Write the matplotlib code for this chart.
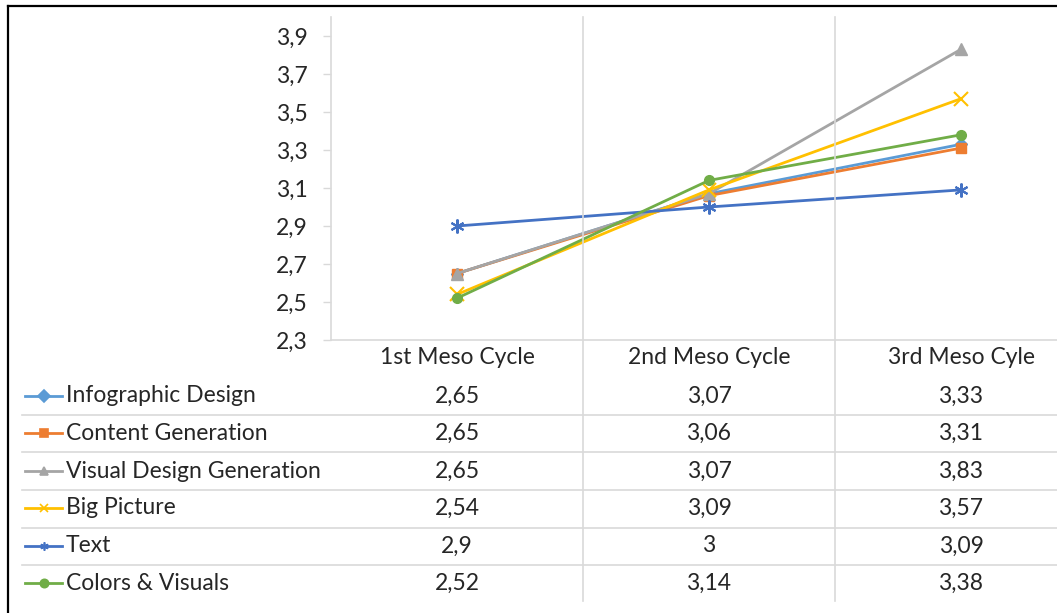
import matplotlib.pyplot as plt
from matplotlib.lines import Line2D
from matplotlib.transforms import blended_transform_factory

plt.rcParams['font.family'] = ['Lato', 'DejaVu Sans']

cycles = ['1st Meso Cycle', '2nd Meso Cycle', '3rd Meso Cyle']
series_names = ['Infographic Design', 'Content Generation', 'Visual Design Generation',
                'Big Picture', 'Text', 'Colors & Visuals']
infographic = [2.65, 3.07, 3.33]
content = [2.65, 3.06, 3.31]
visual_design = [2.65, 3.07, 3.83]
big_picture = [2.54, 3.09, 3.57]
text_scores = [2.9, 3.0, 3.09]
colors_visuals = [2.52, 3.14, 3.38]
yticks = [2.3, 2.5, 2.7, 2.9, 3.1, 3.3, 3.5, 3.7, 3.9]

series = [infographic, content, visual_design, big_picture, text_scores, colors_visuals]
colors = ['#5B9BD5', '#ED7D31', '#A5A5A5', '#FFC000', '#4472C4', '#70AD47']
markers = ['D', 's', '^', 'x', (6, 2, 0), 'o']
msizes = [6, 7, 8, 10, 10, 7]
FS = 16.5

W, H = 1057, 613
fig = plt.figure(figsize=(W / 100, H / 100), dpi=100)

def fx(px):
    return px / W

def fy(py):
    return 1 - py / H

# plot area, the last category runs past the right edge of the figure
ax = fig.add_axes([fx(331), fy(340), fx(1087) - fx(331), fy(17) - fy(340)])
x = list(range(len(cycles)))
for vals, c, m, ms in zip(series, colors, markers, msizes):
    ax.plot(x, vals, color=c, lw=2, marker=m, ms=ms, mew=1.5 if m in ('x', (6, 2, 0)) else 1,
            mfc=c, mec=c, clip_on=False)

ax.set_xlim(-0.5, 2.5)
ax.set_ylim(2.3, 4.0)
ax.set_yticks(yticks)
ax.set_yticklabels([f'{v:.1f}'.replace('.', ',') for v in yticks])
ax.set_xticks([])
ax.tick_params(axis='y', length=6, width=1, color='#D9D9D9', pad=11,
               labelsize=FS, labelcolor='#262626')
for s in ['top', 'right']:
    ax.spines[s].set_visible(False)
for s in ['left', 'bottom']:
    ax.spines[s].set_color('#D9D9D9')
    ax.spines[s].set_linewidth(1.2)

# category separators run down through the data table
table_bottom = (340 - 601) / 323
for b in [0.5, 1.5]:
    ax.axvline(b, ymin=table_bottom, ymax=1, color='#D9D9D9', lw=1.2, clip_on=False)

# data table below the axis
tr = blended_transform_factory(ax.transData, fig.transFigure)
for i, name in enumerate(cycles):
    ax.text(i, fy(358), name, transform=tr, ha='center', va='center',
            fontsize=FS, color='#262626')

row_y = [396, 433, 471, 508, 546, 583]
for ry, name, vals, c, m in zip(row_y, series_names, series, colors, markers):
    fig.add_artist(Line2D([fx(25), fx(62)], [fy(ry), fy(ry)], color=c, lw=2,
                          transform=fig.transFigure))
    fig.add_artist(Line2D([fx(44)], [fy(ry)], color=c, marker=m, ms=6,
                          mew=1.2, transform=fig.transFigure))
    fig.text(fx(66), fy(ry), name, ha='left', va='center', fontsize=FS, color='#262626')
    for i, v in enumerate(vals):
        ax.text(i, fy(ry), f'{v:g}'.replace('.', ','), transform=tr, ha='center',
                va='center', fontsize=FS, color='#262626')

for ly in [415, 452, 490, 528, 565]:
    fig.add_artist(Line2D([fx(22), 1], [fy(ly), fy(ly)], color='#D9D9D9', lw=1.2,
                          transform=fig.transFigure))

# frame edges
fig.add_artist(Line2D([fx(8), 1], [fy(6), fy(6)], color='black', lw=1.6,
                      transform=fig.transFigure))
fig.add_artist(Line2D([fx(8), fx(8)], [fy(6), 0], color='black', lw=1.6,
                      transform=fig.transFigure))

fig.savefig('out.png', dpi=100)
